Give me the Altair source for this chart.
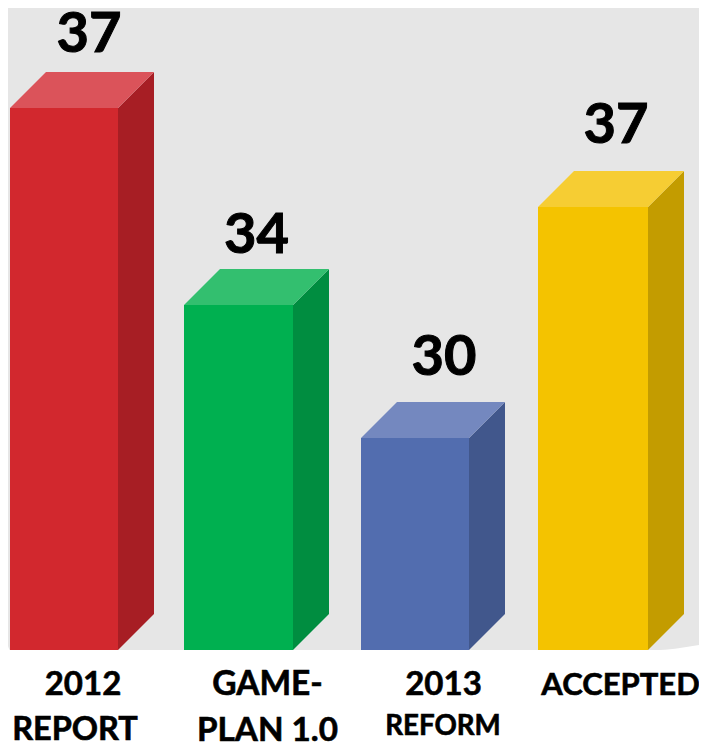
import altair as alt
import pandas as pd

categories = ["2012 REPORT", "GAME-PLAN 1.0", "2013 REFORM", "ACCEPTED"]
values = [37, 34, 30, 37]
heights = [542, 345, 212, 443]
bar_left = [10, 184, 361, 538]
bar_right = [118, 293, 469, 648]
front = ["#D2282E", "#00B050", "#526DAF", "#F4C300"]
top = ["#DB535A", "#33BF6F", "#7488BF", "#F6CD33"]
side = ["#A71E24", "#008D40", "#41578C", "#C39C00"]
depth = 36
value_x = [89, 256.5, 444, 616]
value_y = [598, 397, 275, 507]

labels_1 = ["2012", "GAME-", "2013", "ACCEPTED"]
labels_1_x = [83, 267.5, 443.5, 620.5]
labels_1_size = [33, 33.5, 33, 31]
labels_2 = ["REPORT", "PLAN 1.0", "REFORM"]
labels_2_x = [75, 267.5, 443]
labels_2_y = [-90, -90.5, -85]
labels_2_size = [32.5, 33.2, 27.7]

panel_x = [8, 10, 660, 680, 699]
panel_low = [4, 0, 0, 2, 5]
panel_high = [642, 642, 642, 642, 642]

xs = alt.Scale(domain=[8, 699], range=[0, 691], nice=False, zero=False)
ys = alt.Scale(domain=[-93, 642], range=[735, 0], nice=False, zero=False)
X = lambda f: alt.X(f, type="quantitative", scale=xs, axis=None)
Y = lambda f: alt.Y(f, type="quantitative", scale=ys, axis=None)

df = pd.DataFrame({"cat": categories, "value": values, "h": heights, "l": bar_left, "r": bar_right,
                   "front": front, "top": top, "side": side, "vx": value_x, "vy": value_y})
df["h2"] = df.h + depth
df["l2"] = df.l + depth
df["r2"] = df.r + depth
df["b2"] = depth
df["b0"] = 0

panel = pd.DataFrame({"x": panel_x, "y": panel_low, "y2": panel_high})
bg = alt.Chart(panel).mark_area(color="#E6E6E6", interpolate="monotone").encode(
    x=X("x"), y=Y("y"), y2="y2")

front_m = alt.Chart(df).mark_rect().encode(
    x=X("l"), x2="r", y=Y("b0"), y2="h", color=alt.Color("front:N", scale=None))

layers = [bg, front_m]
for _, row in df.iterrows():
    one = pd.DataFrame({"x": [row.r, row.r2], "y": [row.b0, row.b2], "y2": [row.h, row.h2]})
    layers.append(alt.Chart(one).mark_area(color=row.side, interpolate="linear").encode(
        x=X("x"), y=Y("y"), y2="y2"))
    t = pd.DataFrame({"y": [row.h, row.h2], "x": [row.l, row.l2], "x2": [row.r, row.r2]})
    layers.append(alt.Chart(t).mark_area(color=row.top, orient="horizontal", interpolate="linear").encode(
        y=Y("y"), x=X("x"), x2="x2"))

vals = alt.Chart(df).mark_text(font="Lato", fontWeight="bold", fontSize=56, baseline="alphabetic",
                               color="#000000", stroke="#000000", strokeWidth=1).encode(
    x=X("vx"), y=Y("vy"), text="value:Q")
layers.append(vals)

l1 = pd.DataFrame({"t": labels_1, "x": labels_1_x, "y": [-45] * 4, "s": labels_1_size})
l2 = pd.DataFrame({"t": labels_2, "x": labels_2_x, "y": labels_2_y, "s": labels_2_size})
for d in (l1, l2):
    layers.append(alt.Chart(d).mark_text(font="Lato", fontWeight="bold", baseline="alphabetic",
                                         color="#000000", stroke="#000000", strokeWidth=0.6).encode(
        x=X("x"), y=Y("y"), text="t:N", size=alt.Size("s:Q", scale=None, legend=None)))

chart = alt.layer(*layers).properties(
    width=691, height=735, padding=0, background="#FFFFFF",
    autosize=alt.AutoSizeParams(type="none")
).configure_view(stroke=None)
chart.save("out.html", embed_options={"renderer": "svg", "actions": False})
